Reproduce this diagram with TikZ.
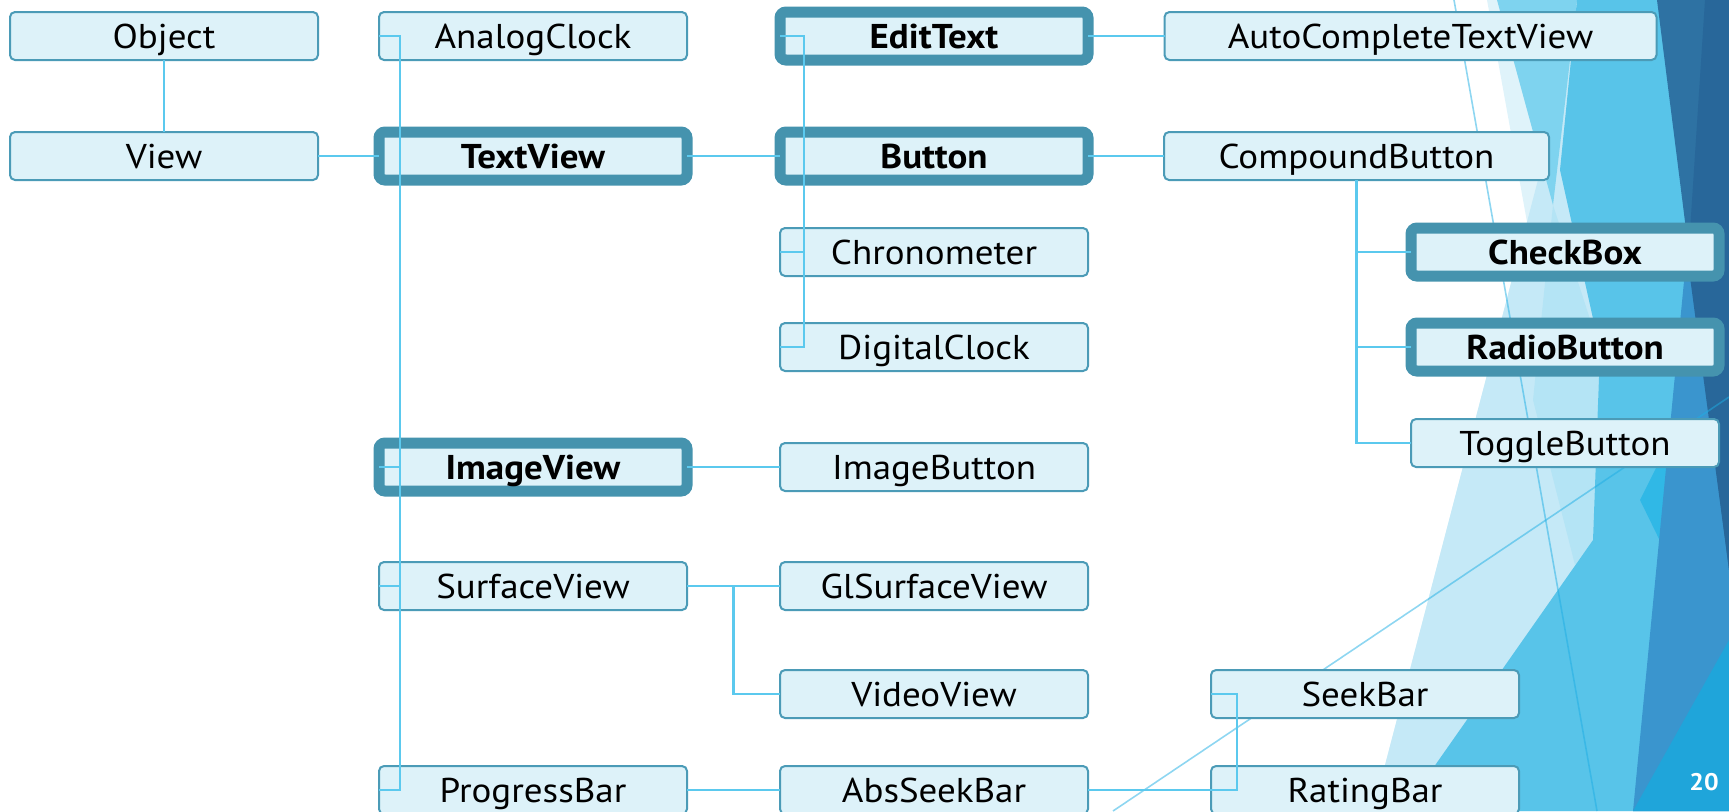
\documentclass[tikz,border=0pt]{standalone}
\usepackage{fontspec}
\setmainfont[FakeStretch=1.075]{PT Sans}
\definecolor{boxfill}{HTML}{DDF2F9}
\definecolor{boxline}{HTML}{4B9BB7}
\definecolor{keyline}{HTML}{4593AE}
\definecolor{linkblue}{HTML}{5BC9EE}
\definecolor{decoblue}{HTML}{1EAEE4}
\definecolor{paleA}{HTML}{DFF3FA}
\definecolor{paleB}{HTML}{C5E9F7}
\definecolor{paleC}{HTML}{B4E4F5}
\definecolor{skyA}{HTML}{7ED3EF}
\definecolor{skyB}{HTML}{58C4E9}
\definecolor{skyC}{HTML}{30B8E6}
\definecolor{midblue}{HTML}{3A95CE}
\definecolor{brightblue}{HTML}{1FA5DA}
\definecolor{navyA}{HTML}{2E72A3}
\definecolor{navyB}{HTML}{28679A}
\begin{document}
\begin{tikzpicture}[x=0.5pt,y=-0.5pt,
  label font/.style={font=\fontsize{17.2}{20}\selectfont},
  box/.style={draw=boxline, line width=1pt, fill=boxfill, rounded corners=2.5pt,
    minimum width=154pt, minimum height=24pt, inner sep=0pt, outer sep=0pt,
    text height=12.5pt, text depth=0pt, label font},
  keybox/.style={box, draw=keyline, line width=5.5pt, rounded corners=3pt,
    font=\fontsize{17.2}{20}\selectfont\bfseries},
  link/.style={draw=linkblue, line width=1.35pt},
  deco/.style={draw=decoblue, draw opacity=0.5, line width=0.8pt}
]
\useasboundingbox (0,0) rectangle (1729,811);
\clip (0,0) rectangle (1729,811);

% facet background on the right
\fill[paleA] (1487,0) -- (1729,0) -- (1729,811) -- (1373,811) -- (1527,222) -- cycle;
\fill[paleB] (1585,0) -- (1729,0) -- (1729,811) -- (1373,811) -- cycle;
\fill[skyA] (1497,0) -- (1577,0) -- (1553,205) -- cycle;
\fill[paleC] (1553,205) -- (1600,350) -- (1593,540) -- (1575,565) -- (1533,400) -- cycle;
\fill[skyB] (1577,0) -- (1729,0) -- (1729,811) -- (1403,811) -- (1593,540) -- (1600,350) -- (1560,170) -- cycle;
\fill[skyC] (1690,400) -- (1662,545) -- (1640,500) -- cycle;
\fill[midblue] (1687,250) -- (1729,250) -- (1729,811) -- (1633,811) -- cycle;
\fill[brightblue] (1633,811) -- (1729,640) -- (1729,811) -- cycle;
\fill[navyA] (1657,0) -- (1729,0) -- (1729,570) -- cycle;
\fill[navyB] (1705,0) -- (1729,0) -- (1729,570) -- (1688,262) -- cycle;
\draw[deco] (1454,0) -- (1597,811);
\draw[deco] (1113,811) -- (1729,397);

% class boxes
\node[box] (Object) at (164,36) {Object};
\node[box] (View) at (164,156) {View};
\node[box] (AnalogClock) at (533,36) {AnalogClock};
\node[keybox] (TextView) at (533,156) {TextView};
\node[keybox] (ImageView) at (533,467) {ImageView};
\node[box] (SurfaceView) at (533,586) {SurfaceView};
\node[box] (ProgressBar) at (533,790) {ProgressBar};
\node[keybox] (EditText) at (934,36) {EditText};
\node[keybox] (Button) at (934,156) {Button};
\node[box] (Chronometer) at (934,252) {Chronometer};
\node[box] (DigitalClock) at (934,347) {DigitalClock};
\node[box] (ImageButton) at (934,467) {ImageButton};
\node[box] (GlSurfaceView) at (934,586) {GlSurfaceView};
\node[box] (VideoView) at (934,694) {VideoView};
\node[box] (AbsSeekBar) at (934,790) {AbsSeekBar};
\node[box, minimum width=246pt] (AutoCompleteTextView) at (1410.5,36) {AutoCompleteTextView};
\node[box, minimum width=192.5pt] (CompoundButton) at (1356.5,156) {CompoundButton};
\node[keybox] (CheckBox) at (1565,252) {CheckBox};
\node[keybox] (RadioButton) at (1565,347) {RadioButton};
\node[box] (ToggleButton) at (1565,443) {ToggleButton};
\node[box] (SeekBar) at (1365,694) {SeekBar};
\node[box] (RatingBar) at (1365,790) {RatingBar};

% inheritance connectors
\draw[link] (Object.south) -- (View.north);
\draw[link] (View.east) -- (TextView.west);
\draw[link] (AnalogClock.west) -- ++(21,0) |- (ProgressBar.west);
\draw[link] (ImageView.west) -- ++(21,0);
\draw[link] (SurfaceView.west) -- ++(21,0);
\draw[link] (TextView.east) -- (Button.west);
\draw[link] (EditText.west) -- ++(24,0) |- (DigitalClock.west);
\draw[link] (Chronometer.west) -- ++(24,0);
\draw[link] (EditText.east) -- (AutoCompleteTextView.west);
\draw[link] (Button.east) -- (CompoundButton.west);
\draw[link] (CompoundButton.south) |- (ToggleButton.west);
\draw[link] (CheckBox.west) -- (CompoundButton.south |- CheckBox.west);
\draw[link] (RadioButton.west) -- (CompoundButton.south |- RadioButton.west);
\draw[link] (ImageView.east) -- (ImageButton.west);
\draw[link] (SurfaceView.east) -- (GlSurfaceView.west);
\draw[link] (SurfaceView.east) ++(46.6,0) |- (VideoView.west);
\draw[link] (ProgressBar.east) -- (AbsSeekBar.west);
\draw[link] (AbsSeekBar.east) -- ++(149,0) |- (SeekBar.west);

% slide number
\node[font=\fontsize{12}{14}\selectfont\bfseries, text=white] (pagenum) at (1704,782) {20};
\end{tikzpicture}
\end{document}
